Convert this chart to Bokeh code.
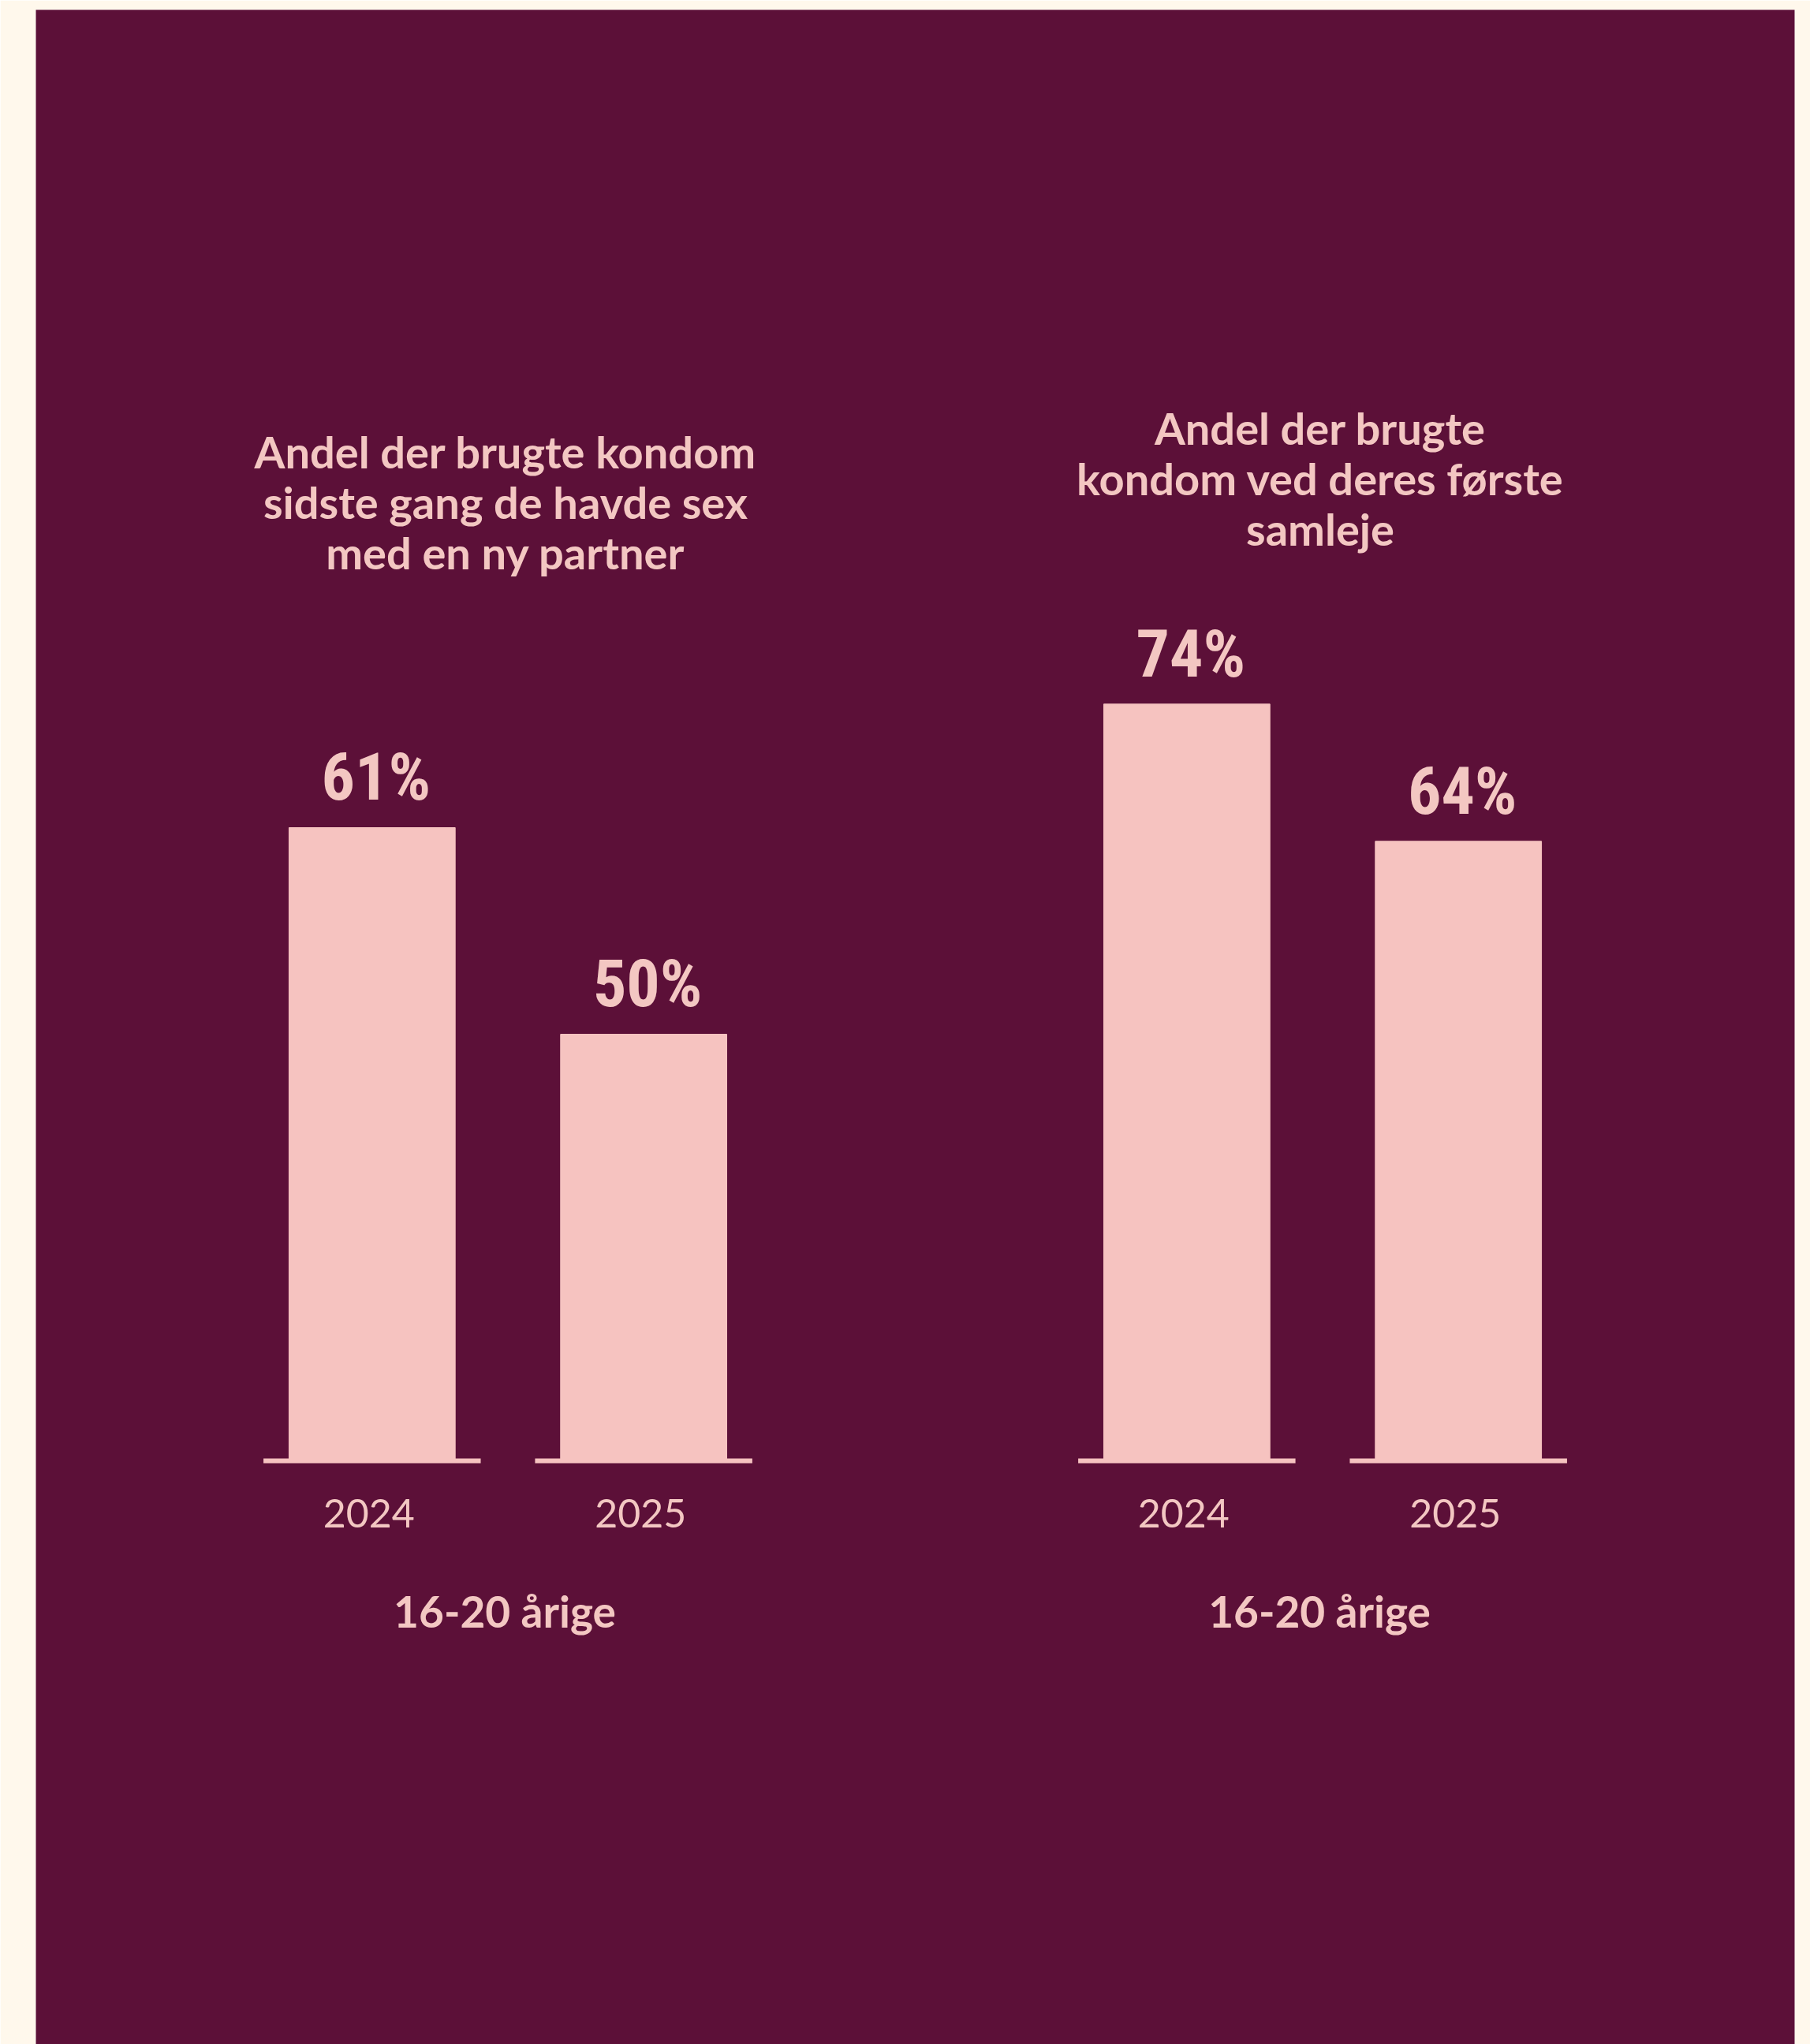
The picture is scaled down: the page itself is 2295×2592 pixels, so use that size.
from bokeh.plotting import figure
from bokeh.models import FactorRange, Range1d, ColumnDataSource
from bokeh.embed import file_html
from bokeh.resources import INLINE
from bokeh.core.properties import value

# ---------------- data ----------------
years = ["2024", "2025"]
groups = ["ny partner", "første samleje"]
left_values = [61, 50]
right_values = [74, 64]
left_title = ["Andel der brugte kondom", "sidste gang de havde sex", "med en ny partner"]
right_title = ["Andel der brugte", "kondom ved deres første", "samleje"]
group_label = "16-20 årige"

# ---------------- style ----------------
DARK = "#5C1038"
CREAM = "#FFF8EC"
PINK = "#F6C3C0"
TEXT = "#F3C7C2"
SANS = "Lato"
VALUE_FONT = "Roboto Condensed, Roboto"
K = 0.365               # baseline correction (fraction of font size)

W, H = 2295, 2592
B_LEFT, B_RIGHT, B_TOP = 45, 20, 12
FRAME_TOP = B_TOP
FRAME_BOTTOM = H
BASE_PX = 1852          # page y of the baseline strip centre
LINE_GAP = 64
TITLE_SIZE, YEAR_SIZE, GROUP_SIZE, VALUE_SIZE = 56, 50, 55, 84


def y_scale(anchors):
    (v1, p1), (v2, p2) = anchors
    s = (p2 - p1) / (v1 - v2)
    start = v1 - (FRAME_BOTTOM - p1) / s
    end = v1 + (p1 - FRAME_TOP) / s
    base = v1 - (BASE_PX - p1) / s
    return Range1d(start, end), base


left_range, left_base = y_scale(list(zip(left_values, [1049, 1311])))
right_range, right_base = y_scale(list(zip(right_values, [892.3, 1066.3])))

p = figure(width=W, height=H,
           x_range=FactorRange(factors=[(g, y) for g in groups for y in years],
                               group_padding=1.0, factor_padding=0.0,
                               range_padding=0.2952, range_padding_units="percent"),
           y_range=left_range, output_backend="svg", toolbar_location=None,
           x_axis_location=None, y_axis_location=None,
           min_border_left=B_LEFT, min_border_right=B_RIGHT,
           min_border_top=B_TOP, min_border_bottom=0)
p.extra_y_ranges = {"right": right_range}
p.background_fill_color = DARK
p.border_fill_color = CREAM
p.outline_line_color = None
p.grid.visible = False

charts = [
    (groups[0], left_values, left_base, left_title, 592, "default"),
    (groups[1], right_values, right_base, right_title, 562, "right"),
]

for g, vals, base, title, first_baseline, yr in charts:
    src = ColumnDataSource(dict(x=[(g, y) for y in years], year=years, top=vals,
                                label=[f"{v}%" for v in vals]))
    p.vbar(x="x", top="top", bottom=base, width=0.612, source=src, y_range_name=yr,
           fill_color=PINK, line_color=PINK, line_width=1)
    p.rect(x="x", y=base, width=0.8, height=6, height_units="screen", source=src,
           y_range_name=yr, fill_color=PINK, line_color=None)
    p.text(x="x", y="top", text="label", source=src, y_range_name=yr,
           y_offset=-33 - K * VALUE_SIZE, x_offset=5,
           text_align="center", text_baseline="alphabetic",
           text_font=value(VALUE_FONT), text_font_style="bold",
           text_font_size=f"{VALUE_SIZE}px", text_color=TEXT)
    p.text(x="x", y=base, text="year", source=src, y_range_name=yr,
           y_offset=1937 - BASE_PX - K * YEAR_SIZE, x_offset=-4,
           text_align="center", text_baseline="alphabetic",
           text_font=value(SANS), text_font_size=f"{YEAR_SIZE}px", text_color=TEXT)
    p.text(x=[g], y=[base], text=[group_label], y_range_name=yr,
           y_offset=2063 - BASE_PX - K * GROUP_SIZE, x_offset=-4,
           text_align="center", text_baseline="alphabetic",
           text_font=value(SANS), text_font_style="bold",
           text_font_size=f"{GROUP_SIZE}px", text_color=TEXT)
    tsrc = ColumnDataSource(dict(
        x=[g] * len(title), y=[base] * len(title), text=title,
        off=[first_baseline + i * LINE_GAP - BASE_PX - K * TITLE_SIZE
             for i in range(len(title))]))
    p.text(x="x", y="y", text="text", y_offset="off", x_offset=-3, source=tsrc,
           y_range_name=yr, text_align="center", text_baseline="alphabetic",
           text_font=value(SANS), text_font_style="bold",
           text_font_size=f"{TITLE_SIZE}px", text_color=TEXT)

open("out.html", "w").write(file_html(p, INLINE))
